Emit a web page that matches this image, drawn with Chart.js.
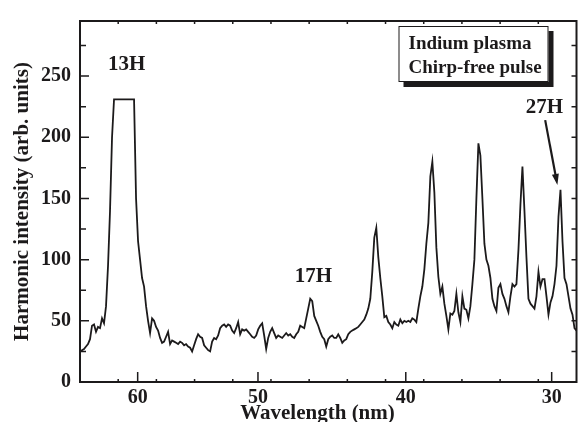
<!DOCTYPE html>
<html lang="en">
<head>
<meta charset="UTF-8">
<title>Harmonic spectrum - indium plasma</title>
<script src="https://cdn.jsdelivr.net/npm/chart.js"></script>
<style>
  html, body { margin: 0; padding: 0; background: #fff; }
</style>
</head>
<body>
<canvas id="spectrum" width="578" height="422"></canvas>
<script>
// Detector axis (evenly spaced channels), spectrum sampled uniformly across it
const channelRange = [0, 1300];
const intensity = [
  25, 26, 27, 29, 31, 35, 46, 47, 41, 45,
  44, 52, 48, 62, 95, 140, 200, 231, 231, 231,
  231, 231, 231, 231, 231, 231, 231, 231, 150, 115,
  100, 85, 78, 62, 50, 40, 52, 50, 45, 42,
  36, 32, 33, 37, 41, 31, 34, 33, 32, 31,
  33, 32, 30, 31, 29, 28, 25, 30, 35, 39,
  37, 36, 30, 28, 26, 25, 33, 36, 35, 38,
  44, 46, 47, 45, 47, 46, 42, 40, 44, 49,
  39, 43, 42, 43, 41, 39, 37, 36, 38, 43,
  46, 48, 38, 27, 36, 41, 44, 40, 36, 38,
  37, 36, 38, 40, 38, 39, 37, 36, 39, 41,
  46, 45, 44, 52, 60, 68, 66, 54, 50, 46,
  41, 37, 35, 29, 35, 37, 38, 36, 36, 39,
  36, 32, 34, 35, 39, 41, 42, 43, 44, 45,
  47, 49, 51, 55, 60, 68, 90, 118, 126, 102,
  85, 70, 53, 54, 49, 47, 44, 49, 47, 46,
  51, 48, 50, 49, 50, 49, 52, 51, 49, 60,
  70, 78, 92, 113, 130, 168, 180, 155, 110, 86,
  72, 78, 64, 54, 43, 56, 55, 58, 72, 57,
  49, 70, 60, 59, 52, 62, 80, 100, 150, 195,
  185, 150, 113, 100, 95, 85, 68, 62, 58, 77,
  80, 72, 68, 62, 57, 70, 80, 78, 80, 108,
  145, 176, 140, 102, 68, 64, 62, 60, 70, 90,
  78, 84, 84, 70, 55, 65, 70, 80, 95, 135,
  157, 115, 85, 80, 70, 60, 55, 44, 42
];

// wavelength tick labels and the detector channel each one sits on
const wavelengthTicks = [60, 50, 40, 30];
const wavelengthChannels = [151, 466, 853, 1235];
const minorChannels = [100, 200, 300, 400, 500, 600, 700, 800, 900, 1000, 1100, 1200];

// harmonic order labels (channel, intensity of label centre)
const harmonicNames = ['13H', '17H', '27H'];
const harmonicChannels = [122, 611, 1216];
const harmonicLabelY = [259, 86, 224];
const arrowFrom = [1218, 214];
const arrowTo = [1250, 161];

const legendLines = ['Indium plasma', 'Chirp-free pulse'];

const ink = '#1c1a1b';
const serif = "'Liberation Serif', 'Times New Roman', serif";

const step = (channelRange[1] - channelRange[0]) / (intensity.length - 1);
const points = intensity.map((v, i) => ({ x: channelRange[0] + i * step, y: v }));

// frame, inward ticks, annotations, boxed legend
const decorations = {
    id: 'decorations',
    afterDraw(chart) {
        const ctx = chart.ctx;
        const { left, right, top, bottom } = chart.chartArea;
        const xs = chart.scales.x;
        const ys = chart.scales.y;
        ctx.save();
        ctx.strokeStyle = ink;
        ctx.fillStyle = ink;

        // frame
        ctx.lineWidth = 2;
        ctx.strokeRect(left, top, right - left, bottom - top);

        // x ticks
        ctx.lineWidth = 1.5;
        ctx.beginPath();
        minorChannels.forEach(c => {
            const px = xs.getPixelForValue(c);
            ctx.moveTo(px, bottom); ctx.lineTo(px, bottom - 3);
            ctx.moveTo(px, top); ctx.lineTo(px, top + 3);
        });
        wavelengthChannels.forEach(c => {
            const px = xs.getPixelForValue(c);
            ctx.moveTo(px, bottom); ctx.lineTo(px, bottom - 10);
        });
        // y ticks
        for (let v = 25; v < ys.max; v += 25) {
            const py = ys.getPixelForValue(v);
            const len = v % 50 === 0 ? 9 : 6;
            ctx.moveTo(left, py); ctx.lineTo(left + len, py);
            ctx.moveTo(right, py); ctx.lineTo(right - 5, py);
        }
        ctx.stroke();

        // x axis title
        ctx.font = 'bold 21px ' + serif;
        ctx.textAlign = 'center';
        ctx.textBaseline = 'alphabetic';
        ctx.fillText('Wavelength (nm)', 317.5, 419);

        // harmonic labels
        ctx.textBaseline = 'middle';
        harmonicNames.forEach((name, i) => {
            ctx.fillText(name, xs.getPixelForValue(harmonicChannels[i]), ys.getPixelForValue(harmonicLabelY[i]));
        });

        // arrow to 27H
        const x0 = xs.getPixelForValue(arrowFrom[0]), y0 = ys.getPixelForValue(arrowFrom[1]);
        const x1 = xs.getPixelForValue(arrowTo[0]), y1 = ys.getPixelForValue(arrowTo[1]);
        const ang = Math.atan2(y1 - y0, x1 - x0);
        ctx.lineWidth = 2.2;
        ctx.beginPath();
        ctx.moveTo(x0, y0);
        ctx.lineTo(x1 - 8 * Math.cos(ang), y1 - 8 * Math.sin(ang));
        ctx.stroke();
        ctx.beginPath();
        ctx.moveTo(x1, y1);
        ctx.lineTo(x1 - 11 * Math.cos(ang) + 3.5 * Math.sin(ang), y1 - 11 * Math.sin(ang) - 3.5 * Math.cos(ang));
        ctx.lineTo(x1 - 11 * Math.cos(ang) - 3.5 * Math.sin(ang), y1 - 11 * Math.sin(ang) + 3.5 * Math.cos(ang));
        ctx.closePath();
        ctx.fill();

        // legend box with drop shadow
        const bw = 150, bh = 56;
        const bx = right - 28 - bw, by = top + 5;
        ctx.fillRect(bx + 5, by + 5, bw, bh);
        ctx.fillStyle = '#fff';
        ctx.fillRect(bx, by, bw, bh);
        ctx.lineWidth = 1;
        ctx.strokeRect(bx + 0.5, by + 0.5, bw - 1, bh - 1);
        ctx.fillStyle = ink;
        ctx.font = 'bold 19px ' + serif;
        ctx.textAlign = 'left';
        ctx.textBaseline = 'alphabetic';
        ctx.fillText(legendLines[0], bx + 10, by + 22.5);
        ctx.fillText(legendLines[1], bx + 10, by + 46.5);

        ctx.restore();
    }
};

new Chart(document.getElementById('spectrum'), {
    type: 'line',
    data: {
        datasets: [{
            data: points,
            borderColor: ink,
            borderWidth: 1.8,
            pointRadius: 0,
            tension: 0,
            fill: false
        }]
    },
    options: {
        responsive: false,
        animation: false,
        devicePixelRatio: 1,
        layout: { padding: { top: 12, right: 1.5, left: 0, bottom: 0 } },
        plugins: { legend: { display: false }, tooltip: { enabled: false } },
        scales: {
            x: {
                type: 'linear',
                min: channelRange[0],
                max: channelRange[1],
                border: { display: false },
                grid: { display: false, drawTicks: false },
                afterBuildTicks: s => {
                    s.ticks = wavelengthChannels.map(v => ({ value: v }));
                },
                ticks: {
                    autoSkip: false,
                    maxRotation: 0,
                    padding: 4,
                    color: ink,
                    font: { family: serif, size: 20, weight: 'bold' },
                    callback: v => {
                        const i = wavelengthChannels.indexOf(v);
                        return i >= 0 ? String(wavelengthTicks[i]) : '';
                    }
                },
                afterFit: s => { s.height = 40; }
            },
            y: {
                min: 0,
                max: 295,
                border: { display: false },
                grid: { display: false, drawTicks: false },
                ticks: {
                    stepSize: 25,
                    includeBounds: false,
                    padding: 9,
                    color: ink,
                    font: { family: serif, size: 20, weight: 'bold' },
                    callback: v => (v % 50 === 0 ? v : '')
                },
                title: {
                    display: true,
                    text: 'Harmonic intensity (arb. units)',
                    color: ink,
                    font: { family: serif, size: 21, weight: 'bold' },
                    padding: { top: 10, bottom: 0 }
                },
                afterFit: s => { s.width = 80; }
            }
        }
    },
    plugins: [decorations]
});
</script>
</body>
</html>
